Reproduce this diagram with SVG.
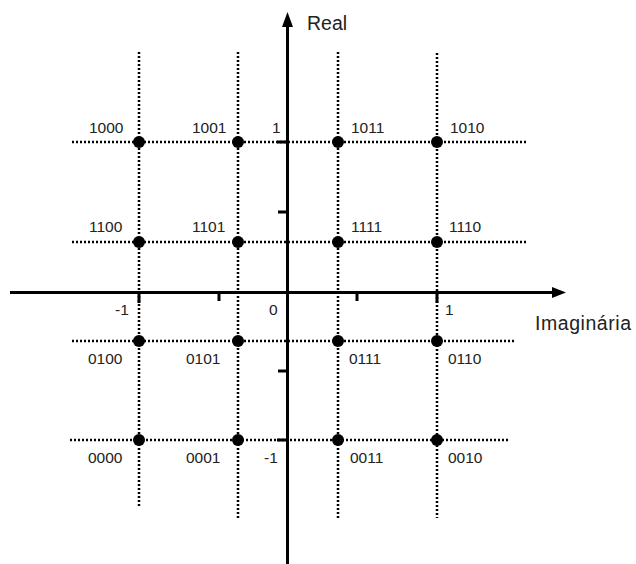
<svg xmlns="http://www.w3.org/2000/svg" width="636" height="564" viewBox="0 0 636 564">
<style>
.dot{stroke:#000;stroke-width:2.5;stroke-dasharray:2 2;fill:none}
.ax{stroke:#000;stroke-width:3;fill:none}
.tk{stroke:#000;stroke-width:3}
text{font-family:"Liberation Sans",Arial,sans-serif;fill:#222}
.lb{font-size:15.5px}
.big{font-size:19.5px}
.pt{fill:#000}
</style>
<rect width="636" height="564" fill="#fff"/>
<g id="connectors">
<g id="grid">
<line class="dot" x1="139" y1="52" x2="139" y2="507"/>
<line class="dot" x1="238" y1="52" x2="238" y2="518"/>
<line class="dot" x1="338" y1="52" x2="338" y2="518"/>
<line class="dot" x1="437" y1="53" x2="437" y2="518"/>
<line class="dot" x1="72" y1="142" x2="526" y2="142"/>
<line class="dot" x1="72" y1="242" x2="526" y2="242"/>
<line class="dot" x1="72" y1="341" x2="516" y2="341"/>
<line class="dot" x1="70" y1="440" x2="508" y2="440"/>
</g>
<g id="axes">
<line class="ax" x1="287.5" y1="24" x2="287.5" y2="564"/>
<polygon points="287.5,12 282,27 293,27" fill="#000"/>
<line class="ax" x1="10" y1="292.5" x2="555" y2="292.5"/>
<polygon points="566,292.5 552,287 552,298" fill="#000"/>
<line class="tk" x1="277" y1="142" x2="287" y2="142"/>
<line class="tk" x1="278" y1="212" x2="287" y2="212"/>
<line class="tk" x1="278" y1="371" x2="287" y2="371"/>
<line class="tk" x1="277" y1="440" x2="287" y2="440"/>
<line class="tk" x1="139" y1="292" x2="139" y2="303"/>
<line class="tk" x1="219" y1="292" x2="219" y2="301"/>
<line class="tk" x1="357" y1="292" x2="357" y2="301"/>
<line class="tk" x1="437" y1="292" x2="437" y2="303"/>
</g>
</g>
<g id="axis-labels">
<text class="big" x="307" y="30">Real</text>
<text class="big" x="535" y="330" textLength="96" lengthAdjust="spacing">Imaginária</text>
<text class="lb" x="272" y="133">1</text>
<text class="lb" x="115" y="315">-1</text>
<text class="lb" x="269" y="315">0</text>
<text class="lb" x="445" y="315">1</text>
<text class="lb" x="264" y="463">-1</text>
</g>
<g id="n1000"><circle class="pt" cx="139" cy="142" r="6"/><text class="lb" x="89" y="133">1000</text></g>
<g id="n1001"><circle class="pt" cx="238" cy="142" r="6"/><text class="lb" x="192" y="133">1001</text></g>
<g id="n1011"><circle class="pt" cx="338" cy="142" r="6"/><text class="lb" x="351" y="133">1011</text></g>
<g id="n1010"><circle class="pt" cx="437" cy="142" r="6"/><text class="lb" x="450" y="133">1010</text></g>
<g id="n1100"><circle class="pt" cx="139" cy="242" r="6"/><text class="lb" x="89" y="232">1100</text></g>
<g id="n1101"><circle class="pt" cx="238" cy="242" r="6"/><text class="lb" x="192" y="232">1101</text></g>
<g id="n1111"><circle class="pt" cx="338" cy="242" r="6"/><text class="lb" x="351" y="232">1111</text></g>
<g id="n1110"><circle class="pt" cx="437" cy="242" r="6"/><text class="lb" x="449" y="232">1110</text></g>
<g id="n0100"><circle class="pt" cx="139" cy="341" r="6"/><text class="lb" x="88" y="364">0100</text></g>
<g id="n0101"><circle class="pt" cx="238" cy="341" r="6"/><text class="lb" x="186" y="364">0101</text></g>
<g id="n0111"><circle class="pt" cx="338" cy="341" r="6"/><text class="lb" x="349" y="364">0111</text></g>
<g id="n0110"><circle class="pt" cx="437" cy="341" r="6"/><text class="lb" x="448" y="364">0110</text></g>
<g id="n0000"><circle class="pt" cx="139" cy="440" r="6"/><text class="lb" x="88" y="463">0000</text></g>
<g id="n0001"><circle class="pt" cx="238" cy="440" r="6"/><text class="lb" x="186" y="463">0001</text></g>
<g id="n0011"><circle class="pt" cx="338" cy="440" r="6"/><text class="lb" x="350" y="463">0011</text></g>
<g id="n0010"><circle class="pt" cx="437" cy="440" r="6"/><text class="lb" x="448" y="463">0010</text></g>
</svg>
